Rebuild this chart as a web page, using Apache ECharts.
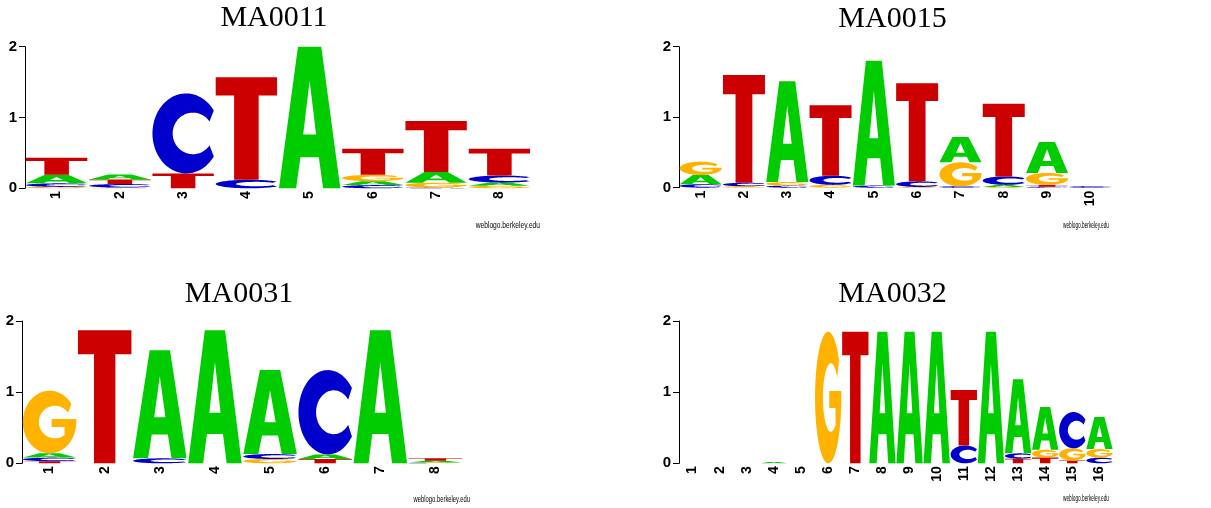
<!DOCTYPE html>
<html>
<head>
<meta charset="utf-8">
<script src="https://cdn.jsdelivr.net/npm/echarts@6/dist/echarts.min.js"></script>
<style>
html,body{margin:0;padding:0;background:#fff;}
#chart{width:1211px;height:508px;}
</style>
</head>
<body>
<div id="chart"></div>
<script>
// ---------- DATA (information content in bits per letter) ----------
const ma0011_pos = ['1','2','3','4','5','6','7','8'];
const ma0011_A = [0.12, 0.07, 0, 0, 2.0, 0.055, 0.15, 0.045];
const ma0011_C = [0.05, 0.05, 1.13, 0.12, 0, 0.045, 0.01, 0.10];
const ma0011_G = [0.02, 0.01, 0, 0, 0, 0.09, 0.07, 0.035];
const ma0011_T = [0.24, 0.065, 0.21, 1.45, 0, 0.37, 0.72, 0.38];

const ma0015_pos = ['1','2','3','4','5','6','7','8','9','10'];
const ma0015_A = [0.13, 0, 1.43, 0, 1.77, 0, 0.36, 0.03, 0.44, 0];
const ma0015_C = [0.05, 0.05, 0.03, 0.13, 0.03, 0.08, 0.02, 0.12, 0.015, 0.02];
const ma0015_G = [0.19, 0.02, 0.05, 0.04, 0, 0.01, 0.34, 0.01, 0.17, 0];
const ma0015_T = [0, 1.53, 0, 1.0, 0, 1.39, 0, 1.03, 0.025, 0];

const ma0031_pos = ['1','2','3','4','5','6','7','8'];
const ma0031_A = [0.06, 0, 1.52, 1.87, 1.18, 0.065, 1.87, 0.025];
const ma0031_C = [0.05, 0, 0.07, 0, 0.07, 1.185, 0, 0.005];
const ma0031_G = [0.88, 0, 0, 0, 0.06, 0, 0, 0.005];
const ma0031_T = [0.03, 1.87, 0, 0, 0, 0.06, 0, 0.035];

const ma0032_pos = ['1','2','3','4','5','6','7','8','9','10','11','12','13','14','15','16'];
const ma0032_A = [0, 0, 0, 0.02, 0, 0, 0, 1.85, 1.85, 1.85, 0, 1.85, 1.04, 0.6, 0, 0.45];
const ma0032_C = [0, 0, 0, 0, 0, 0, 0, 0, 0, 0, 0.25, 0, 0.075, 0, 0.51, 0.08];
const ma0032_G = [0, 0, 0, 0, 0, 1.85, 0, 0, 0, 0, 0, 0, 0, 0.11, 0.17, 0.12];
const ma0032_T = [0, 0, 0, 0, 0, 0, 1.85, 0, 0, 0, 0.78, 0, 0.065, 0.08, 0.04, 0];

const yTicks = ['0', '1', '2'];

// ---------- GLYPHS ----------
const LETTERS = ['A', 'C', 'G', 'T'];
const COLORS = { A: '#00CC00', C: '#0000CC', G: '#FFB300', T: '#CC0000' };

function arc(cx, cy, rx, ry, a0, a1, n) {
  const pts = [];
  for (let i = 0; i <= n; i++) {
    const a = (a0 + (a1 - a0) * i / n) * Math.PI / 180;
    pts.push([cx + rx * Math.cos(a), cy - ry * Math.sin(a)]);
  }
  return pts;
}
function poly(pts) {
  return 'M' + pts.map(p => p[0].toFixed(2) + ' ' + p[1].toFixed(2)).join(' L') + ' Z';
}
const GLYPH = {};
GLYPH.T = poly([[0,0],[100,0],[100,18],[70,18],[70,100],[30,100],[30,18],[0,18]]);
GLYPH.A = poly([[0,100],[31,0],[69,0],[100,100],[72,100],[65,78],[35,78],[28,100]]) + ' ' +
          poly([[50,24],[39.5,62],[60.5,62]]);
(function () {
  const outerC = arc(50, 50, 50, 50, 35, 325, 80);
  const innerC = arc(60, 50, 30, 26, 325, 35, 80);
  GLYPH.C = poly(outerC.concat(innerC));
  const outerG = arc(50, 50, 50, 50, 35, 360, 90);
  const innerG = arc(60, 50, 30, 26, 307, 35, 80);
  GLYPH.G = poly(outerG.concat([[100,45],[54,45],[54,58],[78,58]]).concat(innerG));
})();

// ---------- PANELS ----------
const panels = [
  { title: 'MA0011', pos: ma0011_pos, A: ma0011_A, C: ma0011_C, G: ma0011_G, T: ma0011_T,
    grid: { left: 25, top: 46.7, width: 506, height: 141.6 }, tx: 274, ty: 18.5, wx: 540, wy: 225.5, ws: 0.74 },
  { title: 'MA0015', pos: ma0015_pos, A: ma0015_A, C: ma0015_C, G: ma0015_G, T: ma0015_T,
    grid: { left: 679, top: 46.7, width: 433, height: 141 }, tx: 892.5, ty: 19, wx: 1109, wy: 226, ws: 0.53 },
  { title: 'MA0031', pos: ma0031_pos, A: ma0031_A, C: ma0031_C, G: ma0031_G, T: ma0031_T,
    grid: { left: 22, top: 321, width: 441, height: 142.3 }, tx: 239, ty: 294, wx: 470, wy: 500, ws: 0.65 },
  { title: 'MA0032', pos: ma0032_pos, A: ma0032_A, C: ma0032_C, G: ma0032_G, T: ma0032_T,
    grid: { left: 679, top: 321, width: 434, height: 142.3 }, tx: 892.5, ty: 294, wx: 1109, wy: 499, ws: 0.53 }
];

function stackData(p) {
  const out = [];
  p.pos.forEach((_, i) => {
    const items = LETTERS.map((L, k) => ({ L: k, h: p[L][i] })).filter(o => o.h > 0);
    items.sort((a, b) => a.h - b.h);
    let y = 0;
    items.forEach(o => {
      out.push([i, y, y + o.h, o.L]);
      y += o.h;
    });
  });
  return out;
}

function renderLetter(params, api) {
  const i = api.value(0), y0 = api.value(1), y1 = api.value(2), k = api.value(3);
  const p0 = api.coord([i, y0]);
  const p1 = api.coord([i, y1]);
  const bw = api.size([1, 0])[0];
  const w = bw * 0.97;
  const L = LETTERS[k];
  return {
    type: 'path',
    shape: { pathData: GLYPH[L], x: p0[0] - w / 2, y: p1[1], width: w, height: Math.max(p0[1] - p1[1], 0.3), layout: 'cover' },
    style: { fill: COLORS[L] }
  };
}

const labelFont = { fontFamily: 'Liberation Sans', fontWeight: 'bold', fontSize: 15, color: '#000' };

const option = {
  backgroundColor: '#fff',
  animation: false,
  grid: panels.map(p => Object.assign({ containLabel: false }, p.grid)),
  xAxis: panels.map((p, i) => ({
    type: 'category', gridIndex: i, data: p.pos,
    axisLine: { show: false }, axisTick: { show: false }, splitLine: { show: false },
    axisLabel: Object.assign({ rotate: 90, interval: 0, margin: 3 }, labelFont, { fontSize: 14 })
  })),
  yAxis: panels.map((p, i) => ({
    type: 'value', gridIndex: i, min: 0, max: 2, interval: 1,
    axisLine: { show: true, lineStyle: { color: '#000', width: 1 } },
    axisTick: { show: true, length: 6, lineStyle: { color: '#000', width: 1 } },
    splitLine: { show: false },
    axisLabel: Object.assign({ margin: 8, formatter: v => yTicks[Math.round(v)] }, labelFont)
  })),
  series: panels.map((p, i) => ({
    type: 'custom', xAxisIndex: i, yAxisIndex: i,
    renderItem: renderLetter, data: stackData(p), clip: false
  })),
  graphic: [].concat(
    panels.map(p => ({
      type: 'text', x: p.tx, y: p.ty,
      style: { text: p.title, font: '30px "Liberation Serif"', fill: '#000', textAlign: 'center', textVerticalAlign: 'middle' }
    })),
    panels.map(p => ({
      type: 'text', x: p.wx, y: p.wy, scaleX: p.ws,
      style: { text: 'weblogo.berkeley.edu', font: '9px "Liberation Sans"', fill: '#000', textAlign: 'right', textVerticalAlign: 'middle' }
    }))
  )
};

const chart = echarts.init(document.getElementById('chart'), null, { renderer: 'canvas' });
chart.setOption(option);
</script>
</body>
</html>
